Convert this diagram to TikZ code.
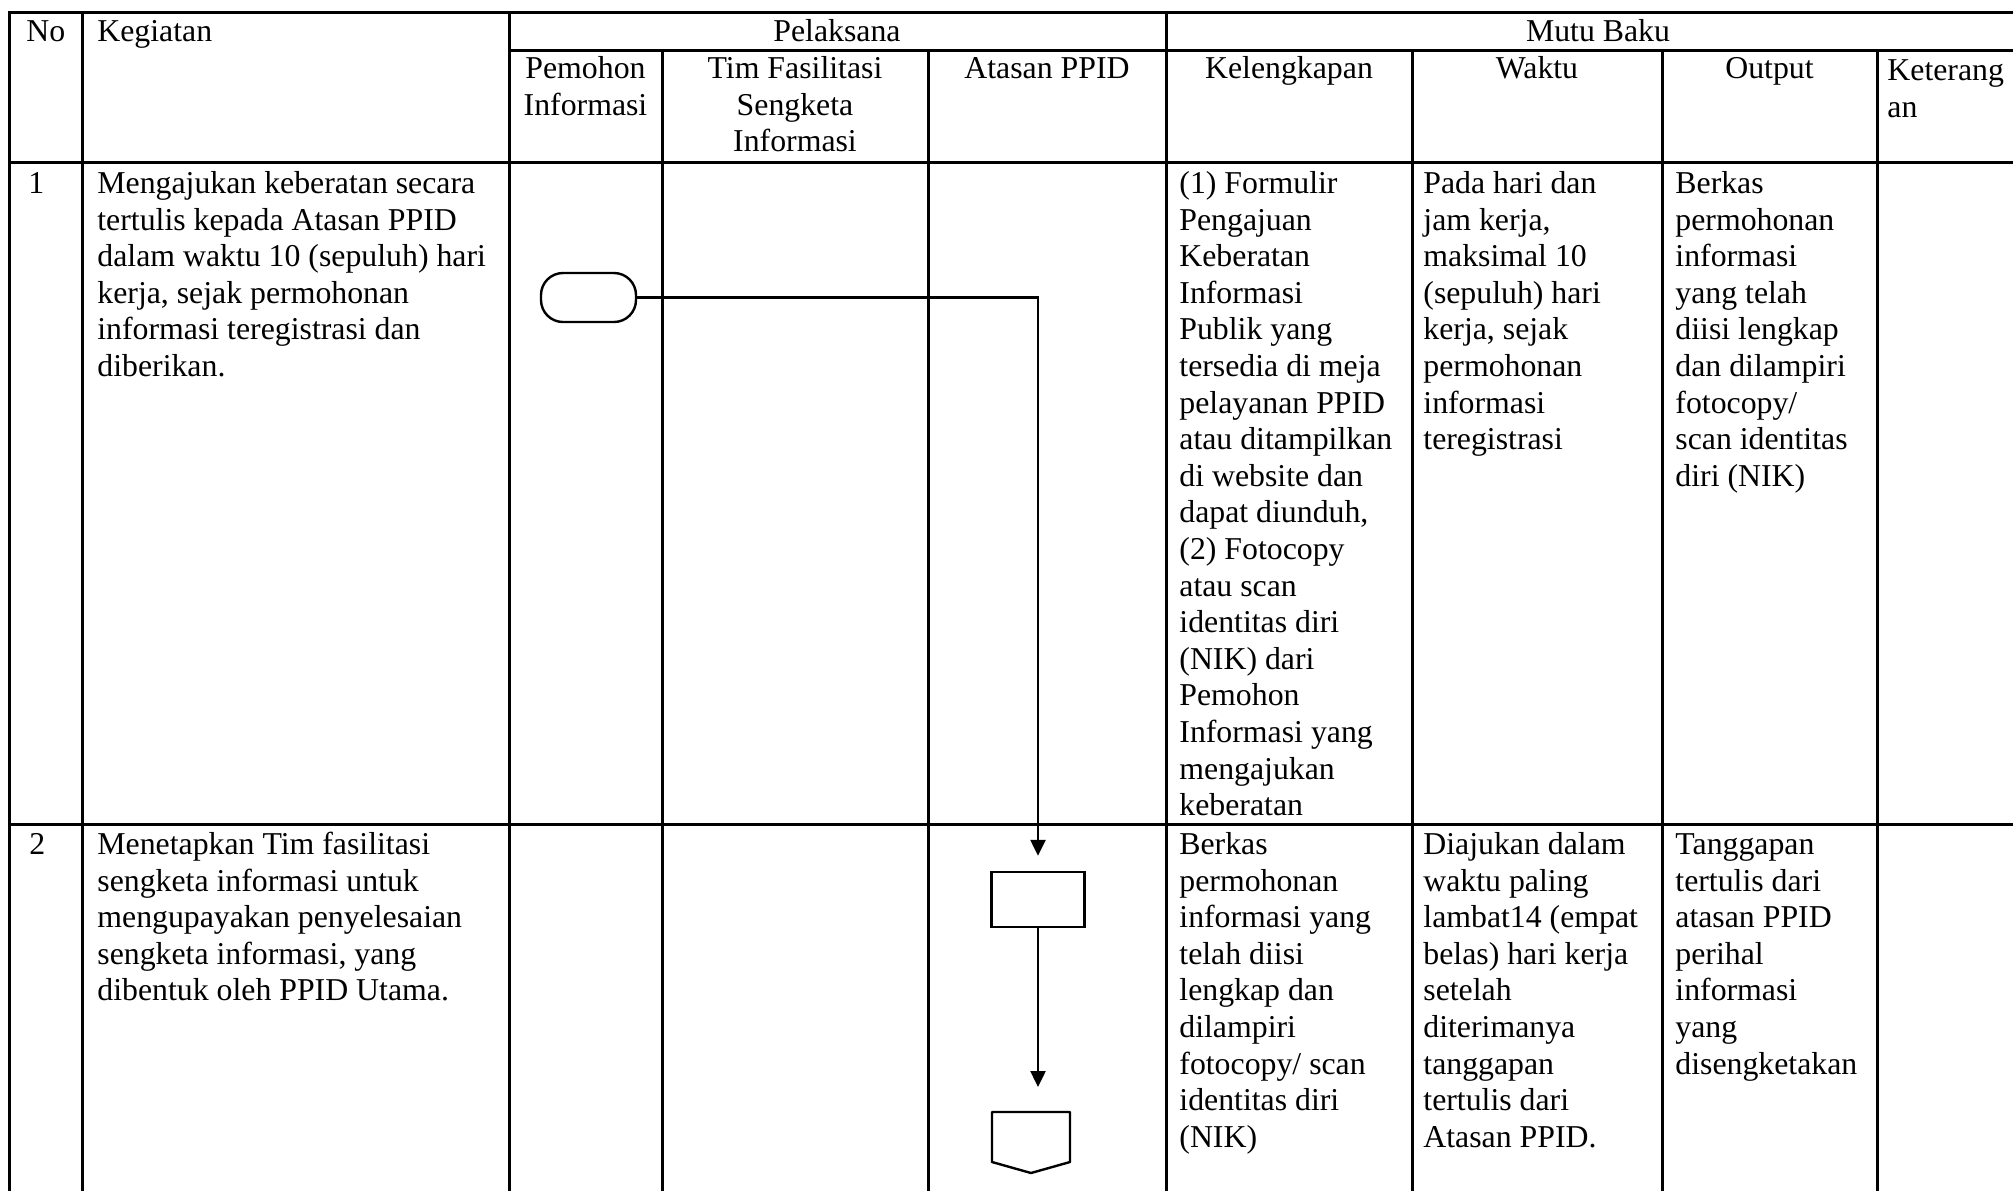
\documentclass[tikz,border=0pt]{standalone}
\usepackage{fontspec}
\setmainfont{Liberation Serif}
\usetikzlibrary{arrows.meta}
\newcommand\cellfont{\fontsize{15.9}{18.3}\selectfont}
\begin{document}
\begin{tikzpicture}[x=0.5pt,y=-0.5pt,
  grid/.style={line width=1.5pt, line cap=rect},
  cell/.style={inner sep=0pt, anchor=north west, align=left, font=\cellfont},
  ccell/.style={inner sep=0pt, anchor=north, align=center, font=\cellfont},
  fshape/.style={draw, line width=1.2pt, inner sep=0pt},
  flow/.style={line width=1.2pt, -{Triangle[length=8pt,width=7.5pt]}}]
\useasboundingbox (0,0) rectangle (2013,1190);
% table grid
\draw[grid] (9,12) -- (2013,12);
\draw[grid] (509,50) -- (2013,50);
\draw[grid] (9,162) -- (2013,162);
\draw[grid] (9,824) -- (2013,824);
\foreach \x in {9,82,509,1166} \draw[grid] (\x,12) -- (\x,1190);
\foreach \x in {662,928,1412,1662,1877} \draw[grid] (\x,50) -- (\x,1190);
% header
\node[cell] (hno) at (26,15.4) {\strut No};
\node[cell] (hkeg) at (97,15.4) {\strut Kegiatan};
\node[ccell] (hpel) at (837,15.4) {\strut Pelaksana};
\node[ccell] (hmutu) at (1598,15.4) {\strut Mutu Baku};
\node[ccell] (hpem) at (585.5,52.4) {\strut Pemohon\\Informasi};
\node[ccell] (htim) at (795,52.4) {\strut Tim Fasilitasi\\Sengketa\\Informasi};
\node[ccell] (hata) at (1047,52.4) {\strut Atasan PPID};
\node[ccell] (hkel) at (1289,52.4) {\strut Kelengkapan};
\node[ccell] (hwak) at (1537,52.4) {\strut Waktu};
\node[ccell] (hout) at (1769.5,52.4) {\strut Output};
\node[cell] (hket) at (1887,54.4) {\strut Keterang\\an};
% row 1
\node[cell] (n1) at (28,167.4) {\strut 1};
\node[cell] (k1) at (97,167.4) {\strut Mengajukan keberatan secara\\tertulis kepada Atasan PPID\\dalam waktu 10 (sepuluh) hari\\kerja, sejak permohonan\\informasi teregistrasi dan\\diberikan.};
\node[cell] (l1) at (1179,167.4) {\strut (1) Formulir\\Pengajuan\\Keberatan\\Informasi\\Publik yang\\tersedia di meja\\pelayanan PPID\\atau ditampilkan\\di website dan\\dapat diunduh,\\(2) Fotocopy\\atau scan\\identitas diri\\(NIK) dari\\Pemohon\\Informasi yang\\mengajukan\\keberatan};
\node[cell] (w1) at (1423,167.4) {\strut Pada hari dan\\jam kerja,\\maksimal 10\\(sepuluh) hari\\kerja, sejak\\permohonan\\informasi\\teregistrasi};
\node[cell] (o1) at (1675,167.4) {\strut Berkas\\permohonan\\informasi\\yang telah\\diisi lengkap\\dan dilampiri\\fotocopy/\\scan identitas\\diri (NIK)};
% row 2
\node[cell] (n2) at (29,828.4) {\strut 2};
\node[cell] (k2) at (97,828.4) {\strut Menetapkan Tim fasilitasi\\sengketa informasi untuk\\mengupayakan penyelesaian\\sengketa informasi, yang\\dibentuk oleh PPID Utama.};
\node[cell] (l2) at (1179,828.4) {\strut Berkas\\permohonan\\informasi yang\\telah diisi\\lengkap dan\\dilampiri\\fotocopy/ scan\\identitas diri\\(NIK)};
\node[cell] (w2) at (1423,828.4) {\strut Diajukan dalam\\waktu paling\\lambat14 (empat\\belas) hari kerja\\setelah\\diterimanya\\tanggapan\\tertulis dari\\Atasan PPID.};
\node[cell] (o2) at (1675,828.4) {\strut Tanggapan\\tertulis dari\\atasan PPID\\perihal\\informasi\\yang\\disengketakan};
% flow shapes
\node[fshape, rounded corners=11pt, minimum width=47.5pt, minimum height=24.5pt] (start) at (588.5,297.5) {};
\node[fshape, minimum width=46.5pt, minimum height=27.5pt] (proc) at (1038,899.5) {};
\coordinate (conn) at (1038,1112);
\draw[line width=1.2pt, line join=round] ([xshift=-23pt]conn) -- ([xshift=16pt]conn) -- ([xshift=16pt,yshift=-25pt]conn) -- ([xshift=-3.5pt,yshift=-30.5pt]conn) -- ([xshift=-23pt,yshift=-25pt]conn) -- cycle;
% connectors
\draw[flow] (start.east) -| ([yshift=7.5pt]proc.north);
\draw[flow] (proc.south) -- ([yshift=12.5pt]conn);
\end{tikzpicture}
\end{document}
